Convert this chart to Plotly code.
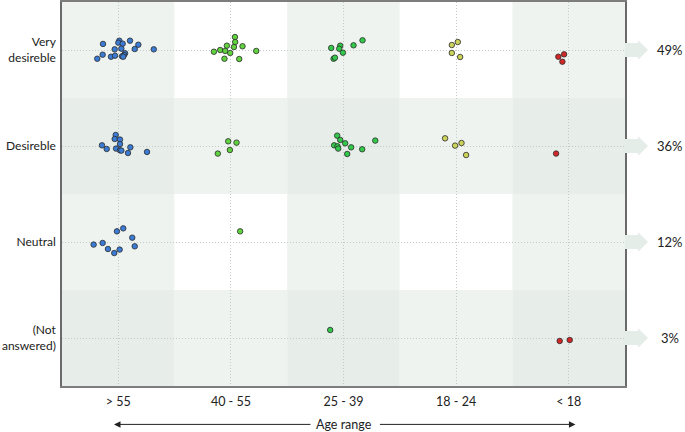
''' Desirability by age range - jittered dot plot '''

import plotly.graph_objects as go


# categories
ages = ['> 55', '40 - 55', '25 - 39', '18 - 24', '< 18']
answers = ['(Not<br>answered)', 'Neutral', 'Desireble', 'Very<br>desireble']  # y = 0..3
shares = ['3%', '12%', '36%', '49%']

# jittered points per age group (x: age position, y: answer position)
x_over55 = [-0.136, 0.009, 0.0, 0.039, 0.104, 0.178, -0.032, 0.027, 0.146, 0.315,
            -0.139, -0.187, -0.065, -0.029, 0.060, 0.051, 0.033, 0.044,
            -0.023, -0.032, 0.015, 0.015, -0.145, -0.103, -0.020, 0.015, 0.027, 0.107, 0.086, 0.255,
            -0.012, 0.044, 0.124, 0.146, -0.219, -0.139, -0.092, -0.036, 0.012]
y_over55 = [3.063, 3.097, 3.076, 3.066, 3.097, 3.055, 3.007, 3.014, 3.010, 3.007,
            2.951, 2.909, 2.930, 2.941, 2.966, 2.948, 2.934, 2.930,
            2.115, 2.073, 2.067, 2.021, 2.007, 1.969, 1.973, 1.955, 1.952, 1.986, 1.927, 1.938,
            1.111, 1.142, 1.045, 0.955, 0.973, 0.990, 0.927, 0.885, 0.921]

x_40_55 = [1.036, 1.038, 0.964, 1.027, 1.103, 0.849, 0.905, 0.949, 0.994, 1.225, 0.943, 1.074,
           0.976, 1.050, 0.991, 0.884,
           1.082]
y_40_55 = [3.135, 3.083, 3.045, 3.031, 3.039, 2.982, 3.000, 2.990, 2.969, 2.990, 2.909, 2.906,
           2.049, 2.035, 1.958, 1.921,
           1.111]

x_25_39 = [1.891, 1.971, 1.962, 1.995, 2.089, 2.169, 1.912, 1.924,
           1.944, 1.971, 2.015, 1.917, 1.947, 1.953, 2.068, 2.166, 2.033, 2.282,
           1.882]
y_25_39 = [3.021, 3.045, 3.014, 2.972, 3.049, 3.101, 2.909, 2.920,
           2.108, 2.063, 2.028, 2.007, 1.997, 1.973, 1.986, 1.966, 1.917, 2.056,
           0.083]

x_18_24 = [2.962, 3.015, 2.962, 3.036, 2.902, 3.048, 2.991, 3.089]
y_18_24 = [3.052, 3.083, 2.969, 2.927, 2.080, 2.031, 2.004, 1.906]

x_under18 = [3.908, 3.959, 3.944, 3.888, 3.920, 4.009]
y_under18 = [2.930, 2.955, 2.878, 1.921, -0.031, -0.021]

groups = [
    (x_over55, y_over55, '#3b7bd4'),
    (x_40_55, y_40_55, '#5fd23e'),
    (x_25_39, y_25_39, '#33c84a'),
    (x_18_24, y_18_24, '#cbd35a'),
    (x_under18, y_under18, '#d02828'),
]

FONT = 'Lato'
LIGHT = '#eef3ef'
DARK = '#e7eeea'

fig = go.Figure()

for xs, ys, col in groups:
    fig.add_trace(go.Scatter(
        x=xs, y=ys, mode='markers',
        marker=dict(size=5.5, color=col, line=dict(width=0.8, color='#2b2b2b')),
        showlegend=False, hoverinfo='skip'
    ))

### checkerboard background
for i in range(len(ages)):
    for j in range(len(answers)):
        col_shaded = i % 2 == 0
        row_shaded = j % 2 == 0
        if col_shaded and row_shaded:
            c = DARK
        elif col_shaded or row_shaded:
            c = LIGHT
        else:
            c = 'white'
        fig.add_shape(type='rect', xref='x', yref='y',
                      x0=i - 0.5, x1=i + 0.5, y0=j - 0.5, y1=j + 0.5,
                      fillcolor=c, line=dict(width=0), layer='below')

### arrows + shares on the right
for j, s in enumerate(shares):
    path = (f'M 1.0,{j + 0.073} L 1.023,{j + 0.073} L 1.023,{j + 0.104} L 1.041,{j} '
            f'L 1.023,{j - 0.104} L 1.023,{j - 0.073} L 1.0,{j - 0.073} Z')
    fig.add_shape(type='path', xref='paper', yref='y', path=path,
                  fillcolor='#e5ede8', line=dict(width=0))
    fig.add_annotation(x=1.08, y=j, xref='paper', yref='y', text=s, showarrow=False,
                       font=dict(family=FONT, size=13, color='#222'), xanchor='center')

### age range label with arrows
fig.add_annotation(x=2, y=-0.1, xref='x', yref='paper', text='Age range', showarrow=False,
                   font=dict(family=FONT, size=12.5, color='#222'), xanchor='center', yanchor='middle')
fig.add_annotation(x=-0.038, y=-0.1, xref='x', yref='paper', axref='x', ayref='pixel',
                   ax=1.72, ay=0, text='', showarrow=True, arrowhead=2, arrowsize=1.3,
                   arrowwidth=1, arrowcolor='#222')
fig.add_annotation(x=4.06, y=-0.1, xref='x', yref='paper', axref='x', ayref='pixel',
                   ax=2.31, ay=0, text='', showarrow=True, arrowhead=2, arrowsize=1.3,
                   arrowwidth=1, arrowcolor='#222')

fig.update_xaxes(
    range=[-0.5, 4.5], tickvals=list(range(len(ages))), ticktext=ages,
    showgrid=True, gridcolor='#c3cbc6', griddash='1px,2px', gridwidth=1,
    showline=True, mirror=True, linecolor='#7d7d7d', linewidth=1.5,
    ticks='outside', ticklen=3, tickcolor='rgba(0,0,0,0)', automargin=False,
    zeroline=False, tickfont=dict(family=FONT, size=12.5, color='#222'), fixedrange=True
)
fig.update_yaxes(
    range=[-0.5, 3.5], tickvals=list(range(len(answers))), ticktext=answers,
    showgrid=True, gridcolor='#c3cbc6', griddash='1px,2px', gridwidth=1,
    showline=True, mirror=True, linecolor='#6a6a6a', linewidth=1.5,
    ticks='outside', ticklen=2, tickcolor='rgba(0,0,0,0)', automargin=False,
    zeroline=False, tickfont=dict(family=FONT, size=12, color='#222'), fixedrange=True
)
fig.update_layout(
    width=685, height=432,
    margin=dict(l=62, r=60, t=2, b=46),
    plot_bgcolor='white', paper_bgcolor='white',
    showlegend=False
)

fig.write_html('out.html', config={'displayModeBar': False},
               post_script="document.body.style.margin='0';")
